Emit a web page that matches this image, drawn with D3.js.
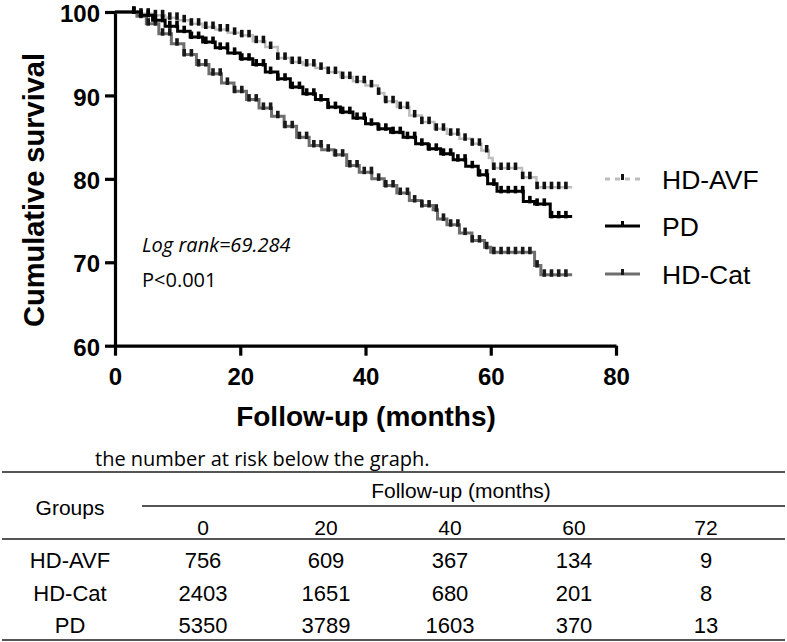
<!DOCTYPE html>
<html><head><meta charset="utf-8">
<script src="https://cdn.jsdelivr.net/npm/d3@7"></script>
<style>body{margin:0;background:#fff}svg{display:block}</style>
</head><body>
<svg id="c" width="787" height="642"></svg>
<script>
// ---------- data ----------
const groups = ["HD-AVF", "PD", "HD-Cat"];
const hdAvf = [[0,100],[2.7,100],[4,99.8],[6,99.6],[8,99.3],[10,99.0],[12,98.6],[14,98.2],[16,97.9],[18,97.5],[20,97.2],[22,96.5],[24,95.8],[26,94.5],[28,94.0],[30,93.7],[32,93.3],[34,92.8],[36,92.2],[38,91.7],[40,91.2],[42,90.3],[43,89.3],[45,88.6],[47,87.6],[49,86.8],[51,86.0],[53,85.4],[55,84.8],[57,84.2],[58.5,83.4],[59.7,82.5],[60.3,81.3],[65,80.2],[67.3,79.0],[73,79.0]];
const pd = [[0,100],[2.7,100],[4,99.6],[6,99.0],[8,98.3],[10,97.7],[12,97.0],[14,96.4],[16,95.7],[18,95.1],[20,94.4],[22,93.7],[24,92.8],[26,92.0],[28,91.0],[30,90.2],[32,89.5],[34,88.6],[36,88.0],[38,87.3],[40,86.6],[42,86.0],[44,85.6],[46,85.0],[48,84.2],[50,83.6],[52,83.0],[54,82.3],[56,81.5],[58,80.5],[59.5,79.4],[61,78.5],[64.5,78.5],[65.2,77.3],[67,77.0],[69.5,75.5],[73,75.5]];
const hdCat = [[0,100],[2.7,100],[3.5,99.5],[5,98.6],[7,97.4],[9,96.2],[11,94.9],[13,93.7],[15,92.6],[17,91.5],[19,90.5],[21,89.5],[23,88.5],[25,87.5],[27,86.3],[29,85.0],[31,84.0],[33,83.5],[35,82.9],[37,81.6],[39,80.8],[41,80.0],[43,79.2],[45,78.3],[47,77.4],[49,76.8],[50.8,76.3],[51.5,75.2],[53,74.5],[55,73.5],[57,72.6],[59,71.8],[60,71.2],[66.5,71.2],[67,69.6],[68,68.5],[73,68.5]];
const yTicks = [60, 70, 80, 90, 100];
const xTicks = [0, 20, 40, 60, 80];
const riskTimes = ["0", "20", "40", "60", "72"];
const riskGroups = ["HD-AVF", "HD-Cat", "PD"];
const riskAvf = [756, 609, 367, 134, 9];
const riskCat = [2403, 1651, 680, 201, 8];
const riskPd = [5350, 3789, 1603, 370, 13];

// ---------- styles ----------
const seriesData = {"HD-AVF": hdAvf, "PD": pd, "HD-Cat": hdCat};
const style = {
  "HD-AVF": {line: "#bdbdbd", width: 2.5, tick: "#111", dash: "5,5"},
  "PD": {line: "#000", width: 3, tick: "#000", dash: null},
  "HD-Cat": {line: "#6e6e6e", width: 3, tick: "#1a1a1a", dash: null}
};
const AX = "'Liberation Sans', Arial, sans-serif";

const svg = d3.select("#c");
const x = d3.scaleLinear().domain([0, 80]).range([115, 616]);
const y = d3.scaleLinear().domain([60, 100]).range([345.7, 12]);

// ---------- axes ----------
const gy = svg.append("g").attr("transform", `translate(${x(0)},0)`)
  .call(d3.axisLeft(y).tickValues(yTicks).tickSize(10).tickSizeOuter(0).tickPadding(5));
const gx = svg.append("g").attr("transform", `translate(0,${y(60)})`)
  .call(d3.axisBottom(x).tickValues(xTicks).tickSize(10).tickSizeOuter(0).tickPadding(12));
[gy, gx].forEach(g => {
  g.select(".domain").attr("stroke", "#000").attr("stroke-width", 3.2);
  g.selectAll(".tick line").attr("stroke", "#000").attr("stroke-width", 3.2);
  g.selectAll(".tick text").attr("fill", "#000").style("font", `bold 24px ${AX}`);
});
gy.selectAll(".tick text").attr("dy", "0.4em");

svg.append("text").attr("transform", "translate(44,190) rotate(-90)")
  .attr("text-anchor", "middle").style("font", `bold 29px ${AX}`).text("Cumulative survival");
svg.append("text").attr("x", 366).attr("y", 426)
  .attr("text-anchor", "middle").style("font", `bold 28px ${AX}`).text("Follow-up (months)");

// ---------- curves ----------
const line = d3.line().x(d => x(d[0])).y(d => y(d[1])).curve(d3.curveStepAfter);
const bis = d3.bisector(d => d[0]).right;
["HD-AVF", "HD-Cat", "PD"].forEach(g => {
  const data = seriesData[g], st = style[g];
  svg.append("path").datum(data).attr("d", line).attr("fill", "none")
    .attr("stroke", st.line).attr("stroke-width", st.width);
  const times = d3.range(3.0, 73.01, 1.15);
  svg.append("g").selectAll("rect").data(times).join("rect")
    .attr("x", t => x(t) - 1.8)
    .attr("y", t => y(data[Math.max(0, bis(data, t) - 1)][1]) - 5.5)
    .attr("width", 3.6).attr("height", 7.5).attr("fill", st.tick);
});

// ---------- annotation ----------
svg.append("text").attr("x", 142).attr("y", 252)
  .style("font", "italic 20px 'Open Sans', sans-serif").text("Log rank=69.284");
svg.append("text").attr("x", 142).attr("y", 287)
  .style("font", "20px 'Open Sans', sans-serif").text("P<0.001");

// ---------- legend ----------
const legY = {"HD-AVF": 179, "PD": 226, "HD-Cat": 274};
groups.forEach(g => {
  const st = style[g], ly = legY[g];
  svg.append("line").attr("x1", 605).attr("x2", 640).attr("y1", ly).attr("y2", ly)
    .attr("stroke", st.line).attr("stroke-width", 3).attr("stroke-dasharray", st.dash);
  svg.append("rect").attr("x", 621).attr("y", ly - 5).attr("width", 3).attr("height", 6).attr("fill", st.tick);
  svg.append("text").attr("x", 662).attr("y", ly + 9.5)
    .style("font", `26.5px ${AX}`).text(g);
});

// ---------- risk table ----------
const tfont = `21px ${AX}`;
svg.append("text").attr("x", 95).attr("y", 466)
  .style("font", "20px 'Open Sans', sans-serif").text("the number at risk below the graph.");
const hl = (x1, x2, yy) => svg.append("line").attr("x1", x1).attr("x2", x2).attr("y1", yy).attr("y2", yy)
  .attr("stroke", "#555").attr("stroke-width", 2);
hl(2, 785, 472); hl(142, 785, 506); hl(2, 785, 539); hl(2, 785, 640);
svg.append("text").attr("x", 70).attr("y", 515).attr("text-anchor", "middle").style("font", tfont).text("Groups");
svg.append("text").attr("x", 461).attr("y", 498).attr("text-anchor", "middle").style("font", tfont).text("Follow-up (months)");
const colPos = {"0": 203, "20": 326, "40": 450, "60": 574, "72": 706};
riskTimes.forEach(t => {
  svg.append("text").attr("x", colPos[t]).attr("y", 535).attr("text-anchor", "middle").style("font", tfont).text(t);
});
const riskRows = {"HD-AVF": riskAvf, "HD-Cat": riskCat, "PD": riskPd};
const rowY = {"HD-AVF": 568, "HD-Cat": 601, "PD": 633};
riskGroups.forEach(g => {
  svg.append("text").attr("x", 70).attr("y", rowY[g]).attr("text-anchor", "middle").style("font", `22px ${AX}`).text(g);
  riskRows[g].forEach((v, i) => {
    svg.append("text").attr("x", colPos[riskTimes[i]]).attr("y", rowY[g]).attr("text-anchor", "middle")
      .style("font", `22px ${AX}`).text(v);
  });
});
</script>
</body></html>
